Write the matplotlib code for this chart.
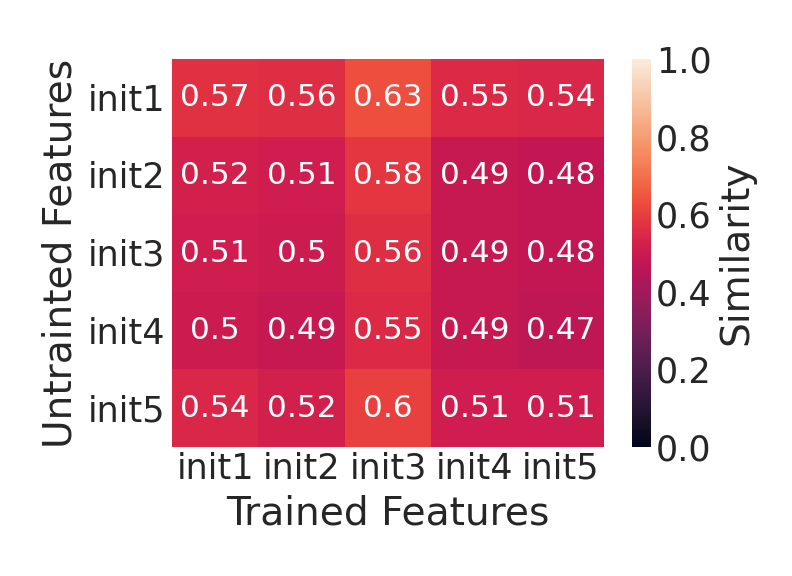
import matplotlib
matplotlib.use("Agg")
import matplotlib.pyplot as plt
import matplotlib.transforms as mtransforms
import seaborn as sns
import numpy as np

rows = ["init1", "init2", "init3", "init4", "init5"]
cols = ["init1", "init2", "init3", "init4", "init5"]
values = [
    [0.57, 0.56, 0.63, 0.55, 0.54],
    [0.52, 0.51, 0.58, 0.49, 0.48],
    [0.51, 0.50, 0.56, 0.49, 0.48],
    [0.50, 0.49, 0.55, 0.49, 0.47],
    [0.54, 0.52, 0.60, 0.51, 0.51],
]

sns.set_theme(style="white")
plt.rcParams['text.color'] = '#262626'
fig = plt.figure(figsize=(7.92, 5.76), dpi=100)
ax = fig.add_axes([172/792, 1-447/576, (604-172)/792, (447-59)/576])
cax = fig.add_axes([632/792, 1-447/576, (651-632)/792, (447-59)/576])
sns.heatmap(np.array(values), annot=True, vmin=0, vmax=1, cmap="rocket",
            xticklabels=cols, yticklabels=rows, ax=ax, cbar_ax=cax,
            annot_kws={"size": 22.4},
            cbar_kws={"label": "Similarity"})
ax.set_xlabel("Trained Features", fontsize=28.2, color='#262626', labelpad=6)
ax.set_ylabel("Untrainted Features", fontsize=28.2, color='#262626', labelpad=6)
ax.tick_params(axis='both', labelsize=25.2, colors='#262626', length=0)
ax.tick_params(axis='y', pad=5)
plt.setp(ax.get_yticklabels(), rotation=0)
offset = mtransforms.ScaledTranslation(0, -3/100, fig.dpi_scale_trans)
for lab in ax.get_yticklabels():
    lab.set_transform(lab.get_transform() + offset)
cax.tick_params(labelsize=25.2, colors='#262626', length=0)
cax.yaxis.label.set_size(28.2)
cax.yaxis.label.set_color('#262626')
cax.set_yticks([0, 0.2, 0.4, 0.6, 0.8, 1.0])
fig.savefig("out.png", dpi=100)
